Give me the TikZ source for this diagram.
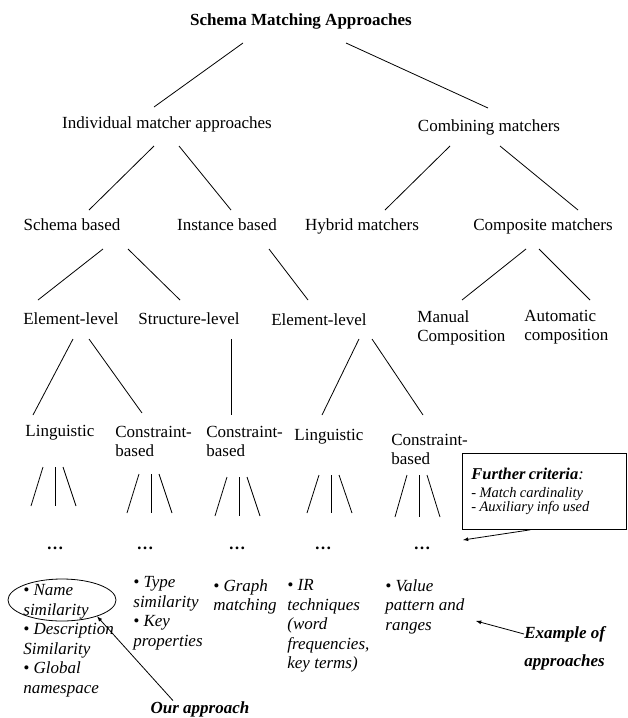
\documentclass[tikz,border=0pt]{standalone}
\usepackage{fontspec}
\setmainfont{Liberation Serif}
\usetikzlibrary{arrows, calc, shapes.geometric}

\tikzset{
  lbl/.style={inner sep=0pt, text height=12pt, text depth=4pt, font=\fontsize{17}{19}\selectfont},
  twoline/.style={inner sep=0pt, align=left, anchor=north west, font=\fontsize{17}{19}\selectfont},
  example/.style={inner sep=0pt, align=left, anchor=north west, font=\fontsize{17}{19.6}\selectfont\itshape},
  remark/.style={inner sep=0pt, align=left, font=\fontsize{17}{28}\selectfont\bfseries\itshape},
  dotsnode/.style={inner sep=0pt, text height=12pt, text depth=4pt, anchor=base, font=\fontsize{17}{19}\selectfont\bfseries},
}

\begin{document}
\begin{tikzpicture}[>=latex, x=1pt, y=-1pt, line width=0.8pt]

\useasboundingbox (0,0) rectangle (627,718);

%\draw[step=50,color=gray!30] (0,0) grid (627,718);

\node[lbl, font=\fontsize{17}{19}\selectfont\bfseries] (root) at (301,21) {Schema Matching Approaches};

\node[lbl] (indiv) at (167,124) {Individual matcher approaches};
\node[lbl] (comb) at (489,127) {Combining matchers};

\node[lbl] (schema) at (72,226) {Schema based};
\node[lbl] (inst) at (227,226) {Instance based};
\node[lbl] (hybrid) at (362,226) {Hybrid matchers};
\node[lbl] (compo) at (543,226) {Composite matchers};

\node[lbl] (elem1) at (71,320) {Element-level};
\node[lbl] (struct) at (189,320) {Structure-level};
\node[lbl] (elem2) at (319,321) {Element-level};
\node[twoline] (manual) at (417,310) {Manual\\Composition};
\node[twoline] (auto) at (524,310) {Automatic\\composition};

\node[lbl, anchor=west] (ling1) at (25,432) {Linguistic};
\node[twoline] (cons1) at (115,426) {Constraint-\\based};
\node[twoline] (cons3) at (206,426) {Constraint-\\based};
\node[lbl, anchor=west] (ling2) at (294,436) {Linguistic};
\node[twoline] (cons5) at (391,434) {Constraint-\\based};

% tree edges
\foreach \a/\ax/\ay/\b/\bx/\by in {
    root/-58/22/indiv/-13/-17, root/45/22/comb/-1/-19,
    indiv/-13/22/schema/17/-16, indiv/12/22/inst/4/-16,
    comb/-39/19/hybrid/23/-16, comb/11/19/compo/35/-16,
    schema/31/23/elem1/-33/-20, schema/56/23/struct/-9/-20,
    inst/42/23/elem2/-11/-21,
    compo/-17/23/manual.north west/45/-10, compo/-4/23/auto.north west/66/-10,
    elem1/2/19/ling1.west/8/-17, elem1/18/19/cons1.north west/27/-13,
    struct/42/19/cons3.north west/25/-11,
    elem2/40/18/ling2.west/28/-21, elem2/53/18/cons5.north west/32/-19}
  \draw ($(\a)+(\ax,\ay)$) -- ($(\b)+(\bx,\by)$);

% dots and fans
\foreach \n/\x in {d1/55, d2/145, d3/237, d4/323, d5/422}
  \node[dotsnode] (\n) at (\x,549) {\textellipsis};

\foreach \x/\t/\b in {55/467/506, 151/474/513, 239/477/516, 331/475/513, 419/475/517}
{
  \draw (\x-12,\t) -- (\x-24,\b);
  \draw (\x,\t) -- (\x,\b);
  \draw (\x+8,\t) -- (\x+21,\b);
}

% examples
\node[example] (namesim) at (23,584) {\textbullet\ Name\\similarity\\\textbullet\ Description\\Similarity\\\textbullet\ Global\\namespace};
\node[example] (typesim) at (133,576) {\textbullet\ Type\\similarity\\\textbullet\ Key\\properties};
\node[example] (graph) at (213,579) {\textbullet\ Graph\\matching};
\node[example] (irtech) at (287,579) {\textbullet\ IR\\techniques\\(word\\frequencies,\\key terms)};
\node[example] (value) at (385,579) {\textbullet\ Value\\pattern and\\ranges};

\node[draw, ellipse, inner sep=0pt, minimum width=108pt, minimum height=42pt] (ours) at (62,600) {};

\node[lbl, font=\fontsize{17}{19}\selectfont\bfseries\itshape] (ourtxt) at (200,709) {Our approach};
\draw[->] ($(ourtxt.north)+(-27,0)$) -- (ours.-25);

\node[remark, anchor=north west] (exmpl) at (524,626) {Example of\\approaches};
\coordinate (exend) at (476,621);
\draw[->] ($(exmpl.north west)+(0,8)$) -- (exend);

% further criteria
\node[draw, inner sep=0pt, anchor=north west, minimum width=164pt, minimum height=76pt, text width=146pt, align=left] (crit) at (462,453)
  {{\fontsize{16.5}{19}\selectfont\bfseries\itshape Further criteria\mdseries:\par}\fontsize{14.5}{17.5}\selectfont\itshape - Match cardinality\\- Auxiliary info used};
\coordinate (critend) at (463,540);
\draw[->] ($(crit.south)+(-14,0)$) -- (critend);

\end{tikzpicture}
\end{document}
